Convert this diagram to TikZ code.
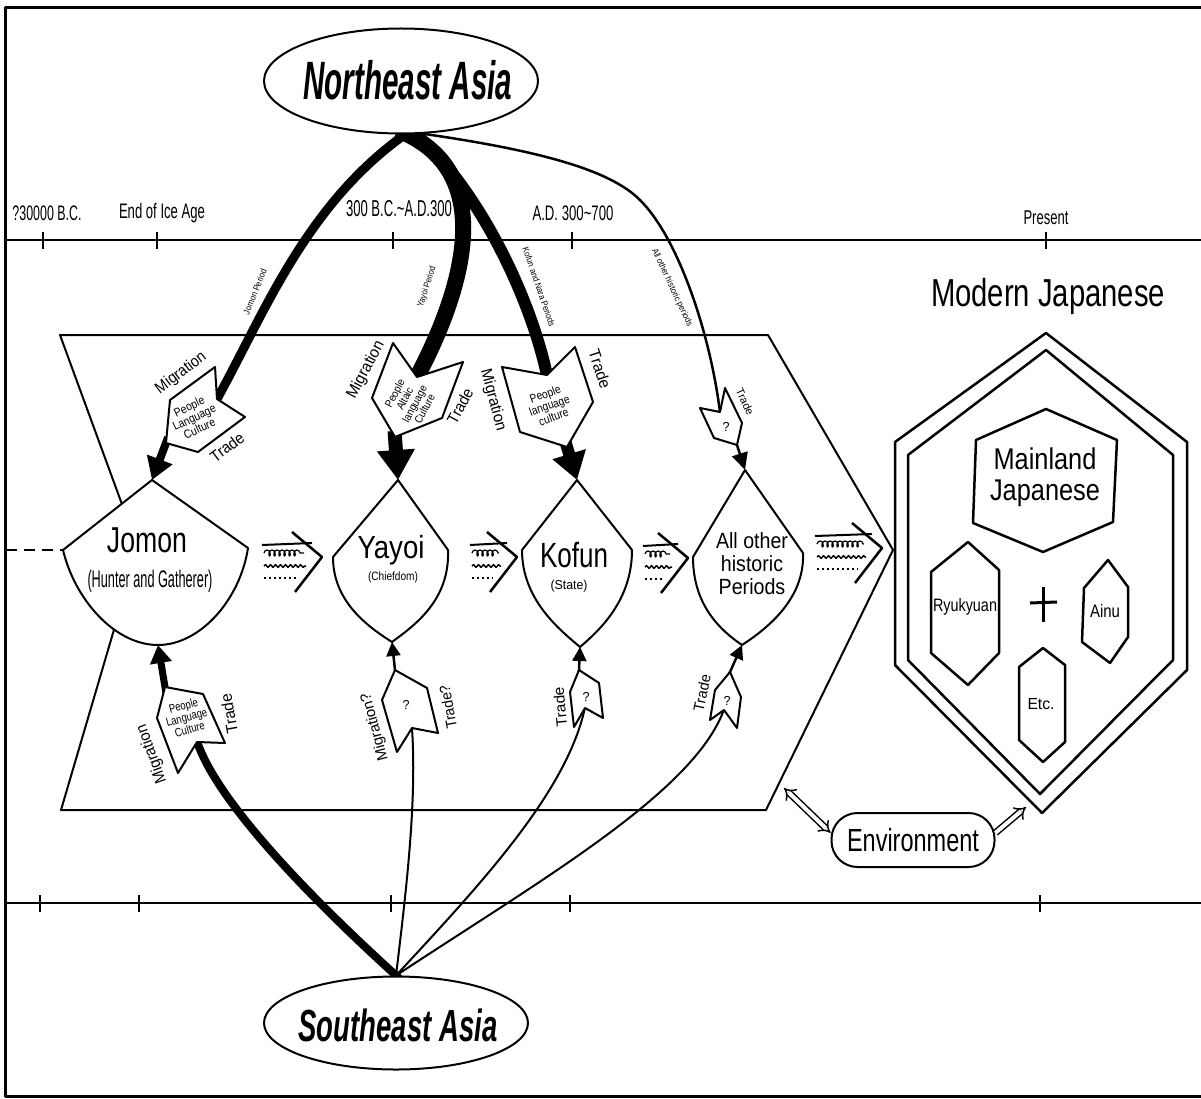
\documentclass[tikz,border=0pt]{standalone}
\usepackage{fontspec}
\setmainfont{Liberation Sans}
\usepackage{graphicx}
\usetikzlibrary{arrows.meta,shapes.geometric,decorations.pathmorphing}
\pgfdeclarelayer{bg}
\pgfdeclarelayer{paper}
\pgfsetlayers{paper,bg,main}
\newcommand\tx[3]{\resizebox{#1pt}{\height}{\fontsize{#2pt}{#2pt}\selectfont #3}}
\newcommand\ml[4]{\resizebox{#1pt}{\height}{\fontsize{#2pt}{#3pt}\selectfont\begin{tabular}{@{}c@{}}#4\end{tabular}}}
\newcommand\defbox[7]{\coordinate (#1a) at #2; \coordinate (#1N) at #3; \coordinate (#1b) at #4; \coordinate (#1c) at #5; \coordinate (#1P) at #6; \coordinate (#1d) at #7;}
\newcommand\drawbox[1]{\draw[boxline] (#1a) -- (#1N) -- (#1b) -- (#1c) -- (#1P) -- (#1d) -- cycle;}
\newcommand\trans[3]{%
 \begin{scope}[shift={(#1,#2)}]
 \draw[line width=2pt] (-#3,-12) -- (-10,-14);
 \draw[line width=1.2pt,decorate,decoration={coil,aspect=0.6,segment length=5pt,amplitude=3pt}] (-#3+2,-4) -- (-18,-4);
 \draw[line width=1.5pt,decorate,decoration={snake,segment length=5pt,amplitude=1.3pt}] (-#3+2,9) -- (-16,9);
 \draw[line width=2pt,dash pattern=on 2pt off 3pt] (-#3+2,21) -- (-24,21);
 \draw[line width=2.5pt] (-30,-25) -- (0,0) -- (-27,35);
 \end{scope}}
\begin{document}
\begin{tikzpicture}[x=1pt,y=-1pt,line join=round,
  boxline/.style={line width=2pt,fill=white},
  lbl/.style={inner sep=0pt,outer sep=0pt},
  hexline/.style={line width=2.5pt},
  dmd/.style={line width=2pt,fill=white},
  flowline/.style={line width=#1,shorten <=-12pt,shorten >=-6pt},
  linkarr/.style={line width=#1,shorten <=-6pt},
  hollow/.style={double,double distance=4pt,line width=1.5pt}]
\useasboundingbox (0,0) rectangle (1201,1099);
\begin{pgfonlayer}{paper}
\fill[white] (0,0) rectangle (1201,1099);
\end{pgfonlayer}
% frame
\draw[line width=3pt] (1201,8) -- (5,8) -- (5,1096) -- (1201,1096);
% timelines
\draw[line width=2.5pt] (5,240) -- (1201,240);
\foreach \x in {43,157,393,572,1046} \draw[line width=2pt] (\x,232) -- (\x,249);
\draw[line width=2.5pt] (5,903) -- (1201,903);
\foreach \x in {40,139,391,570,1040} \draw[line width=2pt] (\x,895) -- (\x,912);
\node[lbl] (t1) at (47,213) {\tx{69}{21}{?30000 B.C.}};
\node[lbl] (t2) at (162,213) {\tx{86}{21}{End of Ice Age}};
\node[lbl] (t3) at (399,209) {\tx{106}{23}{300 B.C.\textasciitilde A.D.300}};
\node[lbl] (t4) at (573,213) {\tx{81}{21}{A.D. 300\textasciitilde 700}};
\node[lbl] (t5) at (1046,218) {\tx{45}{20}{Present}};
% chevron banner
\draw[line width=2pt] (60,335) -- (768,335) -- (893,550) -- (766,810) -- (61,810) -- (138,548) -- cycle;
% Modern Japanese hexagons
\draw[hexline] (1046,333) -- (1187,442) -- (1187,670) -- (1042,813) -- (895,665) -- (895,442) -- cycle;
\draw[hexline] (1046,350) -- (1173,455) -- (1173,660) -- (1040,794) -- (908,660) -- (908,455) -- cycle;
\draw[hexline] (1046,409) -- (1117,440) -- (1113,522) -- (1043,552) -- (973,523) -- (976,440) -- cycle;
\draw[hexline] (968,542) -- (999,570) -- (999,653) -- (968,685) -- (931,653) -- (931,572) -- cycle;
\draw[hexline] (1108,560) -- (1128,587) -- (1128,637) -- (1110,663) -- (1082,642) -- (1084,588) -- cycle;
\draw[hexline] (1043,648) -- (1065,665) -- (1065,742) -- (1043,762) -- (1019,740) -- (1019,667) -- cycle;
\draw[line width=3pt] (1030,603) -- (1057,602);
\draw[line width=3pt] (1043,587) -- (1043,622);
\node[lbl] (mj) at (1048,296) {\tx{234}{39}{Modern Japanese}};
\node[lbl] (mainl) at (1045,479) {\ml{110}{30}{31}{Mainland\\Japanese}};
\node[lbl] (ryu) at (965,607) {\tx{64}{18}{Ryukyuan}};
\node[lbl] (ainu) at (1105,611) {\tx{30}{18}{Ainu}};
\node[lbl] (etc) at (1041,704) {\tx{27}{16}{Etc.}};
% diamonds
\coordinate (jT) at (152,480); \coordinate (jL) at (63,550); \coordinate (jR) at (248,548); \coordinate (jB) at (158,645);
\coordinate (yT) at (398,480); \coordinate (yL) at (333,557); \coordinate (yR) at (448,550); \coordinate (yB) at (392,642);
\coordinate (kT) at (577,480); \coordinate (kL) at (522,550); \coordinate (kR) at (632,550); \coordinate (kB) at (580,647);
\coordinate (aT) at (745,470); \coordinate (aL) at (693,557); \coordinate (aR) at (803,553); \coordinate (aB) at (742,645);
\draw[dmd] (jT) -- (jR) .. controls (240,600) and (200,645) .. (jB) .. controls (115,645) and (75,600) .. (jL) -- cycle;
\draw[dmd] (yT) -- (yR) .. controls (450,600) and (415,625) .. (yB) .. controls (365,625) and (333,600) .. (yL) -- cycle;
\draw[dmd] (kT) -- (kR) .. controls (632,600) and (600,630) .. (kB) .. controls (560,630) and (522,600) .. (kL) -- cycle;
\draw[dmd] (aT) -- (aR) .. controls (805,600) and (765,630) .. (aB) .. controls (720,630) and (693,605) .. (aL) -- cycle;
\node[lbl] (jomon) at (147,540) {\tx{80}{36}{Jomon}};
\node[lbl] (jomons) at (150,581) {\tx{125}{24}{(Hunter and Gatherer)}};
\node[lbl] (yayoi) at (391,550) {\tx{67}{32}{Yayoi}};
\node[lbl] (yayois) at (393,577) {\tx{50}{12}{(Chiefdom)}};
\node[lbl] (kofun) at (574,555) {\tx{68}{35}{Kofun}};
\node[lbl] (kofuns) at (569,586) {\tx{37}{13}{(State)}};
\node[lbl] (allo) at (752,567) {\ml{72}{22}{23}{All other\\historic\\Periods}};
% dashed lead-in
\coordinate (dashS) at (6,550);
\draw[line width=2.5pt,dash pattern=on 11pt off 7pt] (dashS) -- (jL);
% regions
\node[ellipse,draw,line width=2pt,fill=white,minimum width=274pt,minimum height=105pt,inner sep=0pt] (ne) at (401,81) {};
\node[lbl] (net) at (408,80) {\tx{209}{54}{\bfseries\itshape Northeast Asia}};
\node[ellipse,draw,line width=2pt,fill=white,minimum width=264pt,minimum height=93pt,inner sep=0pt] (se) at (396,1023) {};
\node[lbl] (set) at (398,1025) {\tx{199}{45}{\bfseries\itshape Southeast Asia}};
% boxes
\defbox{jt}{(215,367)}{(217,399)}{(245,417)}{(198,452)}{(166,443)}{(170,400)}
\defbox{yt}{(393,343)}{(417,377)}{(463,362)}{(442,418)}{(395,437)}{(372,398)}
\defbox{kt}{(502,367)}{(547,375)}{(575,347)}{(593,402)}{(567,447)}{(520,432)}
\defbox{at}{(700,408)}{(720,412)}{(725,388)}{(742,423)}{(737,445)}{(714,438)}
\defbox{jb}{(178,773)}{(197,742)}{(225,743)}{(203,694)}{(165,687)}{(157,718)}
\defbox{yb}{(397,752)}{(412,728)}{(438,733)}{(427,688)}{(395,670)}{(382,700)}
\defbox{kb}{(574,727)}{(585,708)}{(603,718)}{(599,683)}{(579,670)}{(570,692)}
\defbox{ab}{(710,720)}{(724,710)}{(737,728)}{(741,697)}{(730,672)}{(715,690)}
\begin{pgfonlayer}{bg}
\draw[flowline=9pt] (ne.-86) .. controls (305,200) and (262,320) .. (jtN);
\draw[flowline=16pt] (ne.-82) .. controls (500,170) and (464,290) .. (ytN);
\draw[flowline=12pt] (ne.-74) .. controls (470,175) and (530,290) .. (ktN);
\draw[flowline=2.5pt] (ne.-67) .. controls (540,150) and (610,170) .. (640,200) .. controls (680,240) and (712,340) .. (atN);
\draw[flowline=8pt] (se.north) .. controls (290,880) and (210,790) .. (jbN);
\draw[flowline=2pt] (se.north) .. controls (405,900) and (418,800) .. (ybN);
\draw[flowline=2pt] (se.north) .. controls (480,885) and (570,790) .. (kbN);
\draw[flowline=2pt] (se.north) .. controls (540,880) and (700,790) .. (abN);
\draw[linkarr=8pt,-{Triangle[length=22pt,width=26pt]}] (jtP) -- (jT);
\draw[linkarr=14pt,-{Triangle[length=30pt,width=36pt]}] (ytP) -- (yT);
\draw[linkarr=12pt,-{Triangle[length=27pt,width=33pt]}] (ktP) -- (kT);
\draw[linkarr=2.5pt,-{Triangle[length=17pt,width=16pt]}] (atP) -- (aT);
\draw[linkarr=7pt,-{Triangle[length=18pt,width=21pt]}] (jbP) -- (jB);
\draw[linkarr=2.5pt,-{Triangle[length=14pt,width=14pt]}] (ybP) -- (yB);
\draw[linkarr=2.5pt,-{Triangle[length=14pt,width=14pt]}] (kbP) -- (kB);
\draw[linkarr=2.5pt,-{Triangle[length=14pt,width=14pt]}] (abP) -- (aB);
\end{pgfonlayer}
\drawbox{jt}\drawbox{yt}\drawbox{kt}\drawbox{at}
\drawbox{jb}\drawbox{yb}\drawbox{kb}\drawbox{ab}
% curve labels
\node[lbl,rotate=68] (lj) at (255,292) {\tx{48}{9}{Jomon Period}};
\node[lbl,rotate=72] (ly) at (427,287) {\tx{42}{9}{Yayoi Period}};
\node[lbl,rotate=-71] (lk) at (539,287) {\tx{83}{9}{Kofun and Nara Periods}};
\node[lbl,rotate=-65] (la) at (672,288) {\tx{85}{9}{All other historic periods}};
% box texts
\node[lbl,rotate=37] (jtm) at (181,373) {\tx{59}{16}{Migration}};
\node[lbl,rotate=37] (jtt) at (227,447) {\tx{38}{16}{Trade}};
\node[lbl,rotate=25] (jti) at (195,419) {\ml{46}{12}{12}{People\\Language\\Culture}};
\node[lbl,rotate=62] (ytm) at (366,370) {\tx{63}{16}{Migration}};
\node[lbl,rotate=62] (ytt) at (460,406) {\tx{38}{16}{Trade}};
\node[lbl,rotate=62] (yti) at (411,402) {\ml{40}{11}{11}{People\\Altaic\\language\\Culture}};
\node[lbl,rotate=-75] (ktm) at (493,400) {\tx{63}{16}{Migration}};
\node[lbl,rotate=-72] (ktt) at (600,369) {\tx{40}{16}{Trade}};
\node[lbl,rotate=20] (kti) at (550,407) {\ml{42}{12}{12}{People\\language\\culture}};
\node[lbl] (ati) at (726,427) {\tx{7}{13}{?}};
\node[lbl,rotate=-65] (att) at (745,402) {\tx{28}{11}{Trade}};
\node[lbl,rotate=15] (jbi) at (187,719) {\ml{42}{12}{12}{People\\Language\\Culture}};
\node[lbl,rotate=110] (jbm) at (152,754) {\tx{62}{16}{Migration}};
\node[lbl,rotate=100] (jbt) at (229,714) {\tx{40}{16}{Trade}};
\node[lbl] (ybi) at (406,705) {\tx{7}{13}{?}};
\node[lbl,rotate=105] (ybm) at (375,727) {\tx{70}{15}{Migration?}};
\node[lbl,rotate=100] (ybt) at (448,707) {\tx{44}{15}{Trade?}};
\node[lbl] (kbi) at (586,697) {\tx{7}{13}{?}};
\node[lbl,rotate=95] (kbt) at (560,707) {\tx{40}{15}{Trade}};
\node[lbl] (abi) at (727,701) {\tx{7}{13}{?}};
\node[lbl,rotate=78] (abt) at (702,693) {\tx{37}{15}{Trade}};
% transitions
\trans{322}{557}{60}
\trans{517}{557}{47}
\trans{688}{558}{45}
\trans{882}{548}{67}
% environment
\node[draw,line width=2pt,rounded corners=26pt,minimum width=163pt,minimum height=54pt,inner sep=0pt] (env) at (913,840) {\tx{132}{32}{Environment}};
\coordinate (envS) at (784,788);
\coordinate (envT) at (1026,807);
\draw[hollow,{Implies}-{Implies}] (envS) -- (env.175);
\draw[hollow,-{Implies}] (env.5) -- (envT);
\end{tikzpicture}
\end{document}
